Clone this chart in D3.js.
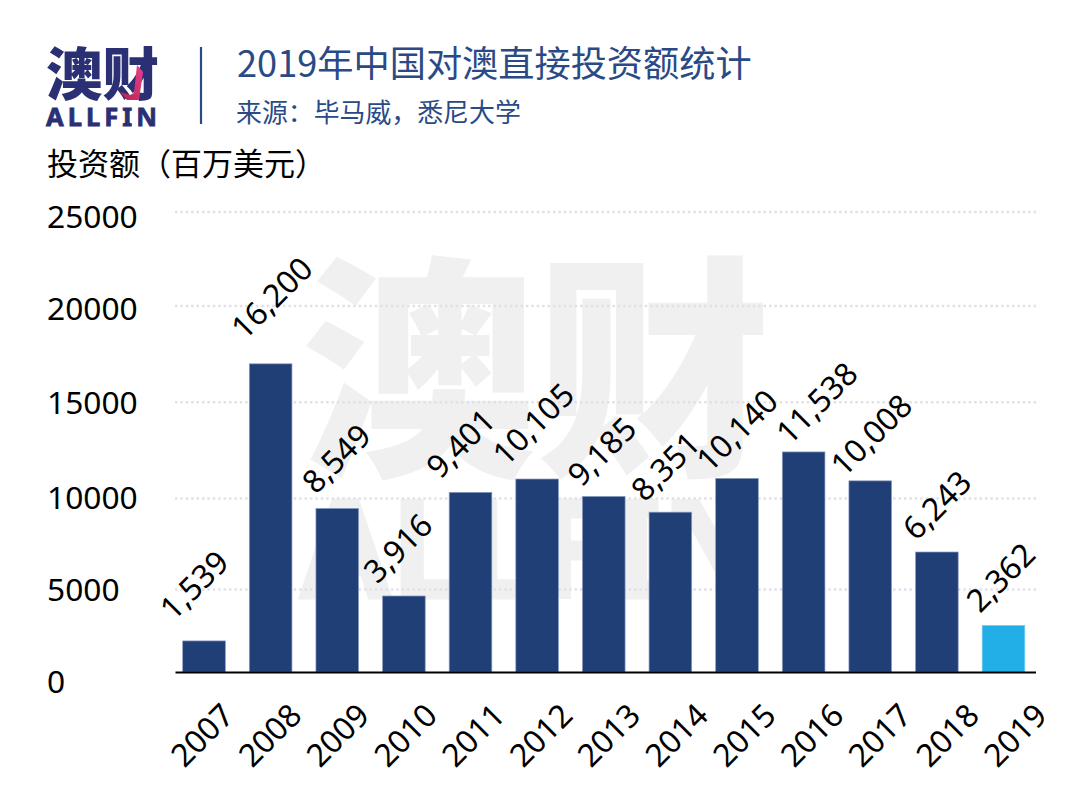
<!DOCTYPE html>
<html><head><meta charset="utf-8">
<script src="https://cdn.jsdelivr.net/npm/d3@7"></script>
<style>
html,body{margin:0;padding:0;background:#fff}
text{font-family:"Noto Sans","Noto Sans CJK SC",sans-serif}
.cjk{font-family:"Noto Sans CJK SC",sans-serif}
</style></head><body>
<svg id="c" width="1080" height="810"></svg>
<script>
const years=["2007","2008","2009","2010","2011","2012","2013","2014","2015","2016","2017","2018","2019"];
const investment=[1539,16200,8549,3916,9401,10105,9185,8351,10140,11538,10008,6243,2362];
const yTicks=[0,5000,10000,15000,20000,25000];
const gridTicks=[5000,10000,15000,20000,25000];
const titleText="2019年中国对澳直接投资额统计";
const sourceText="来源：毕马威，悉尼大学";
const yTitle="投资额（百万美元）";
// hand-placed label offsets of the original, relative to bar centre / bar top
const labelNudgeX=[-10,1,-1,-6,-10,-4,-2,-5,0,13,1,0,-3];
const labelNudgeY=[-56,-66,-50,-48,-49,-55,-45,-46,-48,-49,-46,-47,-48];
const NAVY="#213f77",BLUE="#22aee6",LOGO="#2b2f74";

const svg=d3.select("#c");
const defs=svg.append("defs");
const grad=defs.append("linearGradient").attr("id","pink").attr("x1",0).attr("x2",1).attr("y1",1).attr("y2",0);
grad.append("stop").attr("offset",0).attr("stop-color","#b3234f");
grad.append("stop").attr("offset",1).attr("stop-color","#ee3f8a");

const x=d3.scaleBand().domain(years).range([170.7,1036.8]).paddingInner(0.36).paddingOuter(0.18);
const xLabel=d3.scalePoint().domain(years).range([202,1015]);
const yBar=d3.scaleLinear().domain([0,25000]).range([670,197.5]);
// the original's gridlines and tick labels are hand-placed and slightly uneven
const yGrid=d3.scaleLinear().domain(gridTicks).range([589.5,498.5,402.3,306,212]);
const yLabel=d3.scaleLinear().domain(yTicks).range([682,590,498,403,309,217]);

// watermark
const wm=svg.append("g").attr("fill","#f0f0f0");
wm.append("text").attr("class","cjk").attr("x",301).attr("y",458).attr("font-size",236).attr("font-weight",900)
  .attr("textLength",470).attr("lengthAdjust","spacingAndGlyphs").text("澳财");
wm.append("text").attr("x",300).attr("y",598).attr("font-size",136).attr("font-weight",700)
  .attr("stroke","#f0f0f0").attr("stroke-width",3)
  .attr("textLength",468).attr("lengthAdjust","spacingAndGlyphs").text("ALLFIN");

// grid
svg.append("g").selectAll("line").data(gridTicks).join("line")
  .attr("x1",175).attr("x2",1036).attr("y1",d=>yGrid(d)).attr("y2",d=>yGrid(d))
  .attr("stroke","#e0e0ea").attr("stroke-width",2.4).attr("stroke-dasharray","2.4 3");

// bars
svg.append("g").selectAll("rect").data(years).join("rect")
  .attr("x",d=>x(d)).attr("width",x.bandwidth())
  .attr("y",(d,i)=>yBar(investment[i])).attr("height",(d,i)=>672-yBar(investment[i]))
  .attr("fill",(d,i)=>d==="2019"?BLUE:NAVY)
  .attr("stroke",(d,i)=>d==="2019"?"#7fcdf0":"#8a9cc2").attr("stroke-width",0.7);

// baseline
svg.append("line").attr("x1",175.5).attr("x2",1036).attr("y1",672.5).attr("y2",672.5).attr("stroke","#000").attr("stroke-width",2.2);

// y tick labels
svg.append("g").selectAll("text").data(yTicks).join("text")
  .attr("x",47).attr("y",d=>yLabel(d)).attr("dy","0.36em").attr("font-size",31.7).attr("fill","#000").text(d=>d);

// x tick labels
svg.append("g").selectAll("text").data(years).join("text")
  .attr("transform",d=>`translate(${xLabel(d)},735) rotate(-45)`)
  .attr("text-anchor","middle").attr("dy","0.36em").attr("font-size",31.7).attr("fill","#000").text(d=>d);

// data labels
const fmt=d3.format(",");
svg.append("g").selectAll("text").data(years).join("text")
  .attr("transform",(d,i)=>`translate(${x(d)+x.bandwidth()/2+labelNudgeX[i]},${yBar(investment[i])+labelNudgeY[i]}) rotate(-45)`)
  .attr("text-anchor","middle").attr("dy","0.36em").attr("font-size",31.7).attr("fill","#000").text((d,i)=>fmt(investment[i]));

// header
svg.append("text").attr("class","cjk").attr("x",46).attr("y",95).attr("font-size",57).attr("font-weight",900)
  .attr("fill",LOGO).attr("textLength",113).attr("lengthAdjust","spacingAndGlyphs").text("澳财");
svg.append("path").attr("d","M120,92 L127,100 L139,100 L143,72 L137,65 L134,93 L130,95 Z").attr("fill","url(#pink)");
svg.append("text").attr("x",46).attr("y",125.5).attr("font-size",25.5).attr("font-weight",700)
  .attr("fill",LOGO).attr("stroke",LOGO).attr("stroke-width",0.8).attr("textLength",111).attr("lengthAdjust","spacing").text("ALLFIN");
svg.append("line").attr("x1",201).attr("x2",201).attr("y1",47).attr("y2",124).attr("stroke","#2a4a86").attr("stroke-width",2.2);
svg.append("text").attr("class","cjk").attr("x",237).attr("y",77).attr("font-size",36.2).attr("fill","#2a4a86").text(titleText);
svg.append("text").attr("class","cjk").attr("x",236).attr("y",122).attr("font-size",25.9).attr("fill","#2a4a86").text(sourceText);
svg.append("text").attr("class","cjk").attr("x",47).attr("y",175).attr("font-size",31).attr("fill","#000").text(yTitle);
</script></body></html>
